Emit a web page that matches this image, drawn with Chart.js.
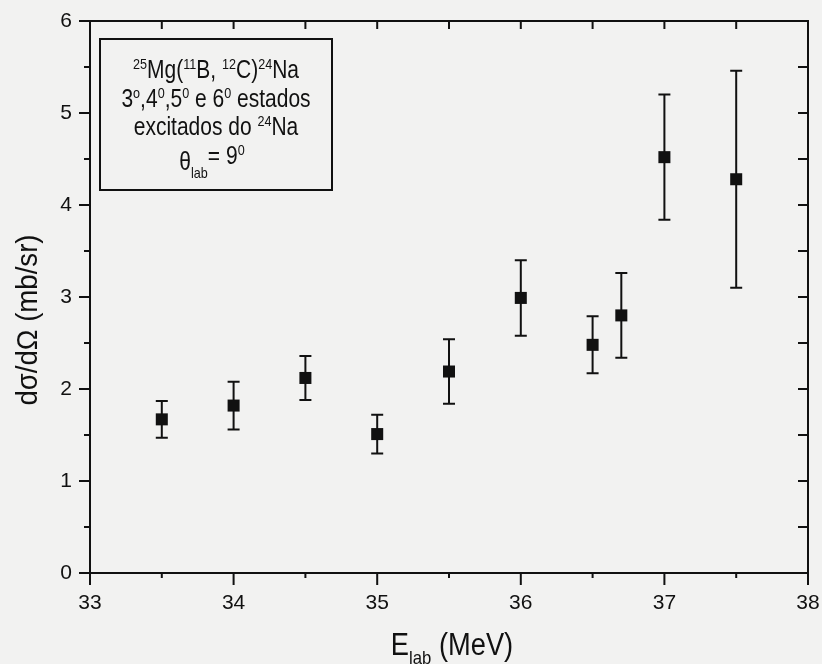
<!DOCTYPE html>
<html>
<head>
<meta charset="utf-8">
<script src="https://cdn.jsdelivr.net/npm/chart.js@4.4.1/dist/chart.umd.min.js"></script>
<style>
  html, body { margin: 0; padding: 0; background: #f2f2f1; }
  #wrap { width: 822px; height: 664px; }
</style>
</head>
<body>
<div id="wrap"><canvas id="xsec" width="822" height="664"></canvas></div>
<script>
// 25Mg(11B,12C)24Na, 3rd-6th excited states of 24Na, theta_lab = 9 deg
const energies = [33.5, 34.0, 34.5, 35.0, 35.5, 36.0, 36.5, 36.7, 37.0, 37.5];
const sigma    = [1.67, 1.82, 2.12, 1.51, 2.19, 2.99, 2.48, 2.80, 4.52, 4.28];
const sigmaErr = [0.20, 0.26, 0.24, 0.21, 0.35, 0.41, 0.31, 0.46, 0.68, 1.18];
const xTicks = [33, 34, 35, 36, 37, 38];
const yTicks = [0, 1, 2, 3, 4, 5, 6];

const FONT = '"Liberation Sans", Arial, Helvetica, sans-serif';
const INK = '#111';

// draws a line made of normal / superscript / subscript pieces, centred on cx
function richLine(ctx, parts, cx, baseline, size, squeeze) {
  const small = Math.round(size * 0.6);
  const fontOf = k => (k === 'sup' || k === 'sub' ? small : size) + 'px ' + FONT;
  let w = 0;
  parts.forEach(([t, k]) => { ctx.font = fontOf(k); w += ctx.measureText(t).width; });
  ctx.save();
  ctx.translate(cx, 0);
  ctx.scale(squeeze, 1);
  ctx.textAlign = 'left';
  ctx.textBaseline = 'alphabetic';
  let x = -w / 2;
  parts.forEach(([t, k, dyExtra]) => {
    ctx.font = fontOf(k);
    let dy = 0;
    if (k === 'sup') dy = -size * 0.36;
    if (k === 'sub') dy = size * 0.3;
    ctx.fillText(t, x, baseline + dy + (dyExtra || 0));
    x += ctx.measureText(t).width;
  });
  ctx.restore();
}

const background = {
  id: 'background',
  beforeDraw(chart) {
    const ctx = chart.ctx;
    ctx.save();
    ctx.fillStyle = '#f2f2f1';
    ctx.fillRect(0, 0, chart.width, chart.height);
    ctx.restore();
  }
};

const errorBars = {
  id: 'errorBars',
  beforeDatasetsDraw(chart) {
    const { ctx, scales: { x, y } } = chart;
    ctx.save();
    ctx.strokeStyle = INK;
    ctx.lineWidth = 2;
    energies.forEach((e, i) => {
      const px = x.getPixelForValue(e);
      const top = y.getPixelForValue(sigma[i] + sigmaErr[i]);
      const bot = y.getPixelForValue(sigma[i] - sigmaErr[i]);
      ctx.beginPath();
      ctx.moveTo(px, top); ctx.lineTo(px, bot);
      ctx.moveTo(px - 6, top); ctx.lineTo(px + 6, top);
      ctx.moveTo(px - 6, bot); ctx.lineTo(px + 6, bot);
      ctx.stroke();
    });
    ctx.restore();
  }
};

const frame = {
  id: 'frame',
  afterDraw(chart) {
    const { ctx, chartArea: a, scales: { x, y } } = chart;
    ctx.save();
    ctx.strokeStyle = INK;
    ctx.fillStyle = INK;
    ctx.lineWidth = 2;
    ctx.strokeRect(a.left, a.top, a.right - a.left, a.bottom - a.top);

    ctx.beginPath();
    for (let v = y.min; v <= y.max + 1e-9; v += 0.5) {
      const py = y.getPixelForValue(v);
      const major = Math.abs(v - Math.round(v)) < 1e-9;
      ctx.moveTo(a.left, py); ctx.lineTo(a.left - (major ? 11 : 6), py);
      ctx.moveTo(a.right, py); ctx.lineTo(a.right - 10, py);
    }
    for (let v = x.min; v <= x.max + 1e-9; v += 0.5) {
      const px = x.getPixelForValue(v);
      const major = Math.abs(v - Math.round(v)) < 1e-9;
      ctx.moveTo(px, a.bottom); ctx.lineTo(px, a.bottom + (major ? 12 : 5));
      ctx.moveTo(px, a.top); ctx.lineTo(px, a.top + 8);
    }
    ctx.stroke();

    // inset label box
    ctx.strokeRect(100, 39, 232, 151);
    const S = 25, sq = 0.84, cx = 216;
    richLine(ctx, [['25', 'sup'], ['Mg(', ''], ['11', 'sup'], ['B, ', ''], ['12', 'sup'], ['C)', ''], ['24', 'sup'], ['Na', '']], cx, 78, S, sq);
    richLine(ctx, [['3', ''], ['o', 'sup'], [',4', ''], ['0', 'sup'], [',5', ''], ['0', 'sup'], [' e 6', ''], ['0', 'sup'], [' estados', '']], cx, 107, S, sq);
    richLine(ctx, [['excitados do ', ''], ['24', 'sup'], ['Na', '']], cx, 135, S, sq);
    richLine(ctx, [['\u03b8', '', 6], ['lab', 'sub', 6], ['= 9', ''], ['0', 'sup']], cx - 4, 164, S, sq);

    // axis titles
    richLine(ctx, [['E', ''], ['lab', 'sub'], [' (MeV)', '']], 452, 655, 31, 0.88);
    ctx.save();
    ctx.translate(29, 320);
    ctx.rotate(-Math.PI / 2);
    ctx.scale(0.92, 1);
    ctx.font = '30px ' + FONT;
    ctx.textAlign = 'center';
    ctx.textBaseline = 'middle';
    ctx.fillText('d\u03c3/d\u03a9 (mb/sr)', 0, 0);
    ctx.restore();

    ctx.restore();
  }
};

new Chart(document.getElementById('xsec'), {
  type: 'scatter',
  data: {
    datasets: [{
      data: energies.map((e, i) => ({ x: e, y: sigma[i] })),
      pointStyle: 'rect',
      pointRadius: 8.5,
      backgroundColor: INK,
      borderColor: INK,
      borderWidth: 0
    }]
  },
  options: {
    responsive: false,
    animation: false,
    devicePixelRatio: 1,
    layout: { padding: { top: 21, right: 14, left: 0, bottom: 0 } },
    plugins: { legend: { display: false }, tooltip: { enabled: false } },
    scales: {
      x: {
        type: 'linear',
        min: 33,
        max: 38,
        afterBuildTicks: s => { s.ticks = xTicks.map(v => ({ value: v })); },
        afterFit: s => { s.height = 91; s.paddingLeft = 0; s.paddingRight = 0; },
        grid: { display: false, drawTicks: false },
        border: { display: false },
        ticks: { padding: 18, maxRotation: 0, color: INK, font: { family: FONT, size: 21 } }
      },
      y: {
        type: 'linear',
        min: 0,
        max: 6,
        afterBuildTicks: s => { s.ticks = yTicks.map(v => ({ value: v })); },
        afterFit: s => { s.width = 90; s.paddingTop = 0; s.paddingBottom = 0; },
        grid: { display: false, drawTicks: false },
        border: { display: false },
        ticks: { padding: 18, color: INK, font: { family: FONT, size: 21 } }
      }
    }
  },
  plugins: [background, errorBars, frame]
});
</script>
</body>
</html>
